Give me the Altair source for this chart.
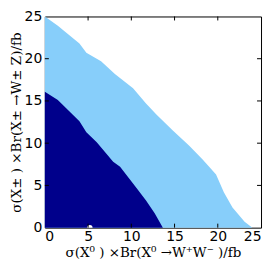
import altair as alt
import pandas as pd

# Outer (light blue) exclusion boundary
outer_x = [0, 1.5, 4.0, 4.8, 6.5, 8.1, 10.2, 11.7, 12.9, 14.8, 16.7, 18.3, 19.8, 20.7, 21.7, 23.1, 24.0]
outer_y = [25, 23.9, 21.8, 20.7, 19.7, 18.2, 16.5, 14.7, 13.4, 11.5, 9.7, 8.0, 6.3, 4.2, 2.4, 0.7, 0.0]

# Inner (dark blue) exclusion boundary
inner_x = [0, 1.5, 4.0, 4.8, 6.0, 7.9, 8.7, 10.6, 11.7, 12.7, 13.65]
inner_y = [16.1, 15.1, 12.6, 11.3, 10.1, 7.8, 7.2, 4.7, 3.2, 1.7, 0.0]

# Marker point
pt_x = [5.2]
pt_y = [0.0]

ticks = [5, 10, 15, 20]
labels = [0, 5, 10, 15, 20, 25]

W, H = 217, 212

outer = pd.DataFrame({"x": outer_x, "y": outer_y})
inner = pd.DataFrame({"x": inner_x, "y": inner_y})
pts = pd.DataFrame({"x": pt_x, "y": pt_y})
tk = pd.DataFrame({"t": ticks})

xs = alt.Scale(domain=[0, 25], nice=False, zero=False)
ys = alt.Scale(domain=[0, 25], nice=False, zero=False)

xtitle = "σ(X⁰ ) ×Br(X⁰ →W⁺W⁻ )/fb"
ytitle = "σ(X± ) ×Br(X± →W± Z)/fb"

xaxis = alt.Axis(values=labels, ticks=False, domain=False, grid=False,
                 labelFont="DejaVu Sans", labelFontSize=14, labelColor="black", labelPadding=2,
                 title=xtitle, titleFont="DejaVu Serif", titleFontSize=13.5, titleFontWeight="normal",
                 titleColor="black", titlePadding=2)
yaxis = alt.Axis(values=labels, ticks=False, domain=False, grid=False,
                 labelFont="DejaVu Sans", labelFontSize=14, labelColor="black", labelPadding=3,
                 title=ytitle, titleFont="DejaVu Serif", titleFontSize=13.5, titleFontWeight="normal",
                 titleColor="black", titlePadding=1)

light = alt.Chart(outer).mark_area(color="#87CEFA", opacity=1, interpolate="linear").encode(
    x=alt.X("x:Q", scale=xs, axis=xaxis),
    y=alt.Y("y:Q", scale=ys, axis=yaxis),
)
dark = alt.Chart(inner).mark_area(color="#00008B", opacity=1, interpolate="linear").encode(
    x=alt.X("x:Q", scale=xs),
    y=alt.Y("y:Q", scale=ys),
)
dot = alt.Chart(pts).mark_point(filled=True, color="white", opacity=1, size=30, clip=True).encode(
    x=alt.X("x:Q", scale=xs),
    y=alt.Y("y:Q", scale=ys),
)

tl = 4
bottom_t = alt.Chart(tk).mark_rule(color="black", strokeWidth=1).encode(
    x=alt.X("t:Q", scale=xs), y=alt.value(H), y2=alt.value(H - tl))
top_t = alt.Chart(tk).mark_rule(color="black", strokeWidth=1).encode(
    x=alt.X("t:Q", scale=xs), y=alt.value(0), y2=alt.value(tl))
left_t = alt.Chart(tk).mark_rule(color="black", strokeWidth=1).encode(
    y=alt.Y("t:Q", scale=ys), x=alt.value(0), x2=alt.value(tl))
right_t = alt.Chart(tk).mark_rule(color="black", strokeWidth=1).encode(
    y=alt.Y("t:Q", scale=ys), x=alt.value(W), x2=alt.value(W - tl))

chart = alt.layer(light, dark, dot, bottom_t, top_t, left_t, right_t).properties(
    width=W, height=H,
    autosize=alt.AutoSizeParams(type="none"),
    padding={"left": 37, "top": 8, "right": 5, "bottom": 40},
    background="white",
).configure_view(stroke="black", strokeWidth=1)

chart.save("out.html", embed_options={"renderer": "svg", "actions": False})
